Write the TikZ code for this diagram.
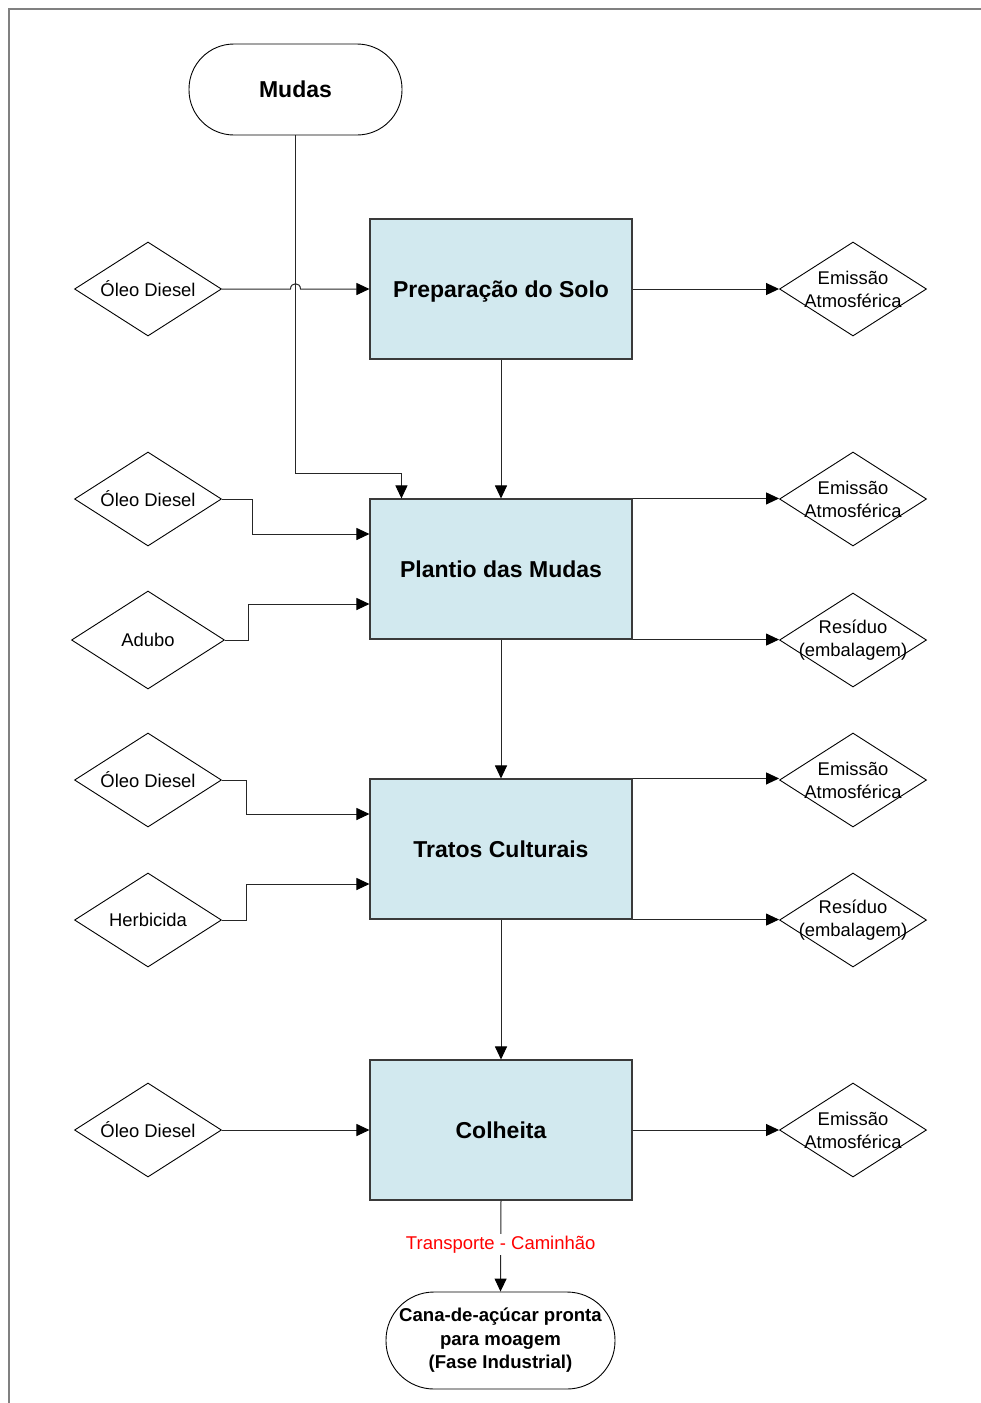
\documentclass[tikz,border=0pt]{standalone}
\usepackage{fontspec}
\setmainfont{Liberation Sans}
\usetikzlibrary{shapes.geometric,arrows.meta,calc}
\definecolor{boxfill}{HTML}{D2E9EF}
\definecolor{boxline}{HTML}{3A3A3A}
\tikzset{
  procbox/.style={draw=boxline,line width=1.1pt,fill=boxfill,minimum width=262pt,minimum height=140pt,inner sep=0pt,text height=16.5pt,text depth=0pt,font=\fontsize{23}{27}\selectfont\bfseries},
  dia/.style={draw=black,line width=0.9pt,shape=diamond,minimum width=147pt,minimum height=94pt,inner sep=0pt},
  dtext/.style={font=\fontsize{18.4}{23}\selectfont,align=center,inner sep=0pt},
  term/.style={draw=black,line width=0.9pt,rounded corners=#1,inner sep=0pt,align=center},
  arr/.style={draw=black!85,line width=1pt,-{Triangle[length=13pt,width=12pt,color=black]}},
  conn/.style={draw=black!85,line width=1pt}
}
\begin{document}
\begin{tikzpicture}[x=1pt,y=-1pt]
\useasboundingbox (0,0) rectangle (981,1403);
\draw[gray,line width=1.6pt] (9,1403) -- (9,9) -- (981,9);
% terminals
\node[term=45pt,minimum width=213pt,minimum height=91pt,font=\fontsize{23}{27}\selectfont\bfseries] (m) at (295.5,89.5) {Mudas};
\node[term=48pt,minimum width=229pt,minimum height=97pt,font=\fontsize{18.6}{23.5}\selectfont\bfseries] (f) at (500.5,1340.5) {Cana-de-açúcar pronta\\para moagem\\(Fase Industrial)};
% process boxes
\node[procbox] (p1) at (501,289) {Preparação do Solo};
\node[procbox] (p2) at (501,569) {Plantio das Mudas};
\node[procbox] (p3) at (501,849) {Tratos Culturais};
\node[procbox] (p4) at (501,1130) {Colheita};
% left diamonds
\node[dia] (l1) at (148,289) {}; \node[dtext] at (l1) {Óleo Diesel};
\node[dia] (l2) at (148,499) {}; \node[dtext] at (l2) {Óleo Diesel};
\node[dia,minimum width=153pt,minimum height=98pt] (l3) at (148,640) {}; \node[dtext] at (l3) {Adubo};
\node[dia] (l4) at (148,780) {}; \node[dtext] at (l4) {Óleo Diesel};
\node[dia] (l5) at (148,920) {}; \node[dtext] at (l5) {Herbicida};
\node[dia] (l6) at (148,1130) {}; \node[dtext] at (l6) {Óleo Diesel};
% right diamonds
\node[dia] (r1) at (853,289) {}; \node[dtext] at (r1) {Emissão\\Atmosférica};
\node[dia] (r2) at (853,499) {}; \node[dtext] at (r2) {Emissão\\Atmosférica};
\node[dia] (r3) at (853,640) {}; \node[dtext] at (r3) {Resíduo\\(embalagem)};
\node[dia] (r4) at (853,780) {}; \node[dtext] at (r4) {Emissão\\Atmosférica};
\node[dia] (r5) at (853,920) {}; \node[dtext] at (r5) {Resíduo\\(embalagem)};
\node[dia] (r6) at (853,1130) {}; \node[dtext] at (r6) {Emissão\\Atmosférica};
% Mudas to Plantio
\draw[arr] (m.south) -- ++(0,338) -| ([xshift=32pt]p2.north west);
% Oleo 1 with line jump
\coordinate (j1) at ($(m.south |- l1.east)+(-5,0)$);
\coordinate (j2) at ($(m.south |- l1.east)+(5,0)$);
\draw[arr] (l1.east) -- (j1) .. controls ($(j1)+(0,-7)$) and ($(j2)+(0,-7)$) .. (j2) -- (p1.west);
\draw[arr] (p1.east) -- (r1.west);
% vertical flow
\draw[arr] (p1.south) -- (p2.north);
\draw[arr] (p2.south) -- (p3.north);
\draw[arr] (p3.south) -- (p4.north);
\draw[arr] (p4.south) -- node[fill=white,text=red,font=\fontsize{18.5}{22}\selectfont,inner sep=2pt,pos=0.48] {Transporte - Caminhão} (f.north);
% Plantio inputs
\draw[arr] (l2.east) -- ++(31,0) |- ([yshift=35pt]p2.west);
\draw[arr] (l3.east) -- ++(24,0) |- ([yshift=-35pt]p2.west);
\draw[arr] (p2.north east) -- (p2.north east -| r2.west);
\draw[arr] (p2.south east) -- (p2.south east -| r3.west);
% Tratos inputs
\draw[arr] (l4.east) -- ++(25,0) |- ([yshift=35pt]p3.west);
\draw[arr] (l5.east) -- ++(25,0) |- ([yshift=-35pt]p3.west);
\draw[arr] (p3.north east) -- (p3.north east -| r4.west);
\draw[arr] (p3.south east) -- (p3.south east -| r5.west);
% Colheita
\draw[arr] (l6.east) -- (p4.west);
\draw[arr] (p4.east) -- (r6.west);
\end{tikzpicture}
\end{document}
